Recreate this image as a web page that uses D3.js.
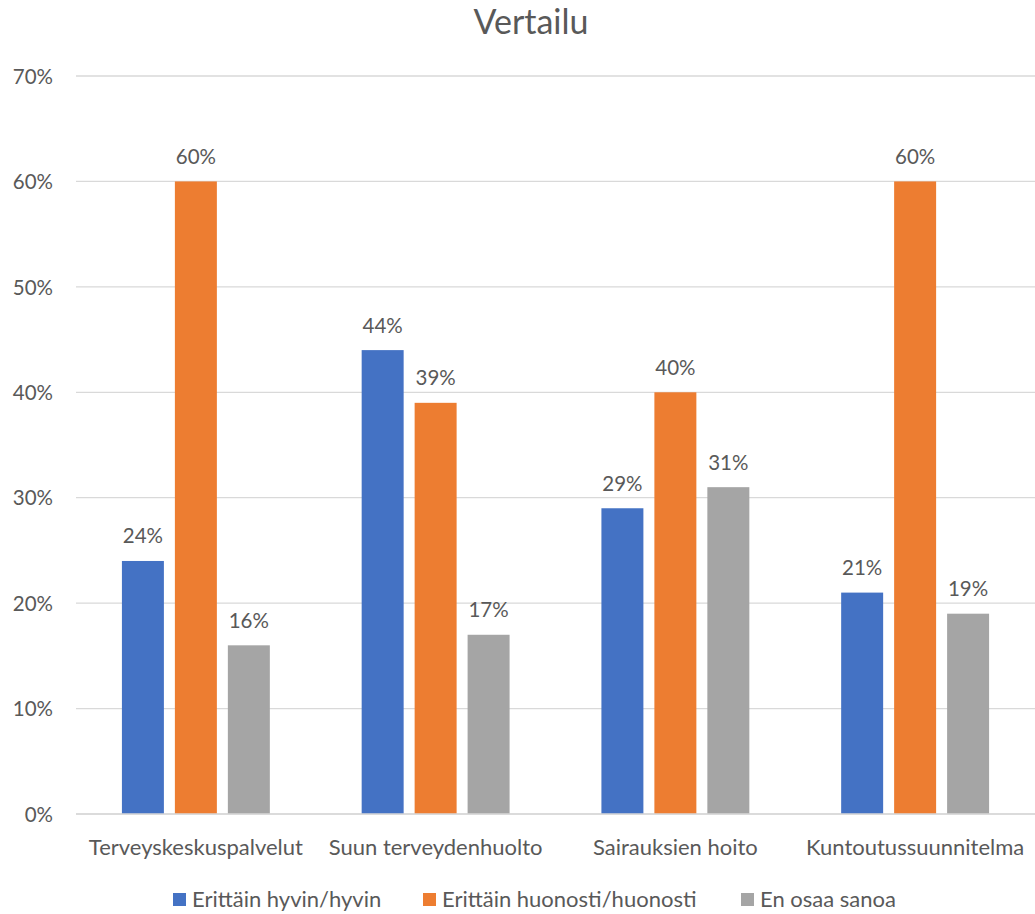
<!DOCTYPE html>
<html><head><meta charset="utf-8">
<script src="https://cdn.jsdelivr.net/npm/d3@7"></script>
<style>html,body{margin:0;padding:0;background:#fff}</style>
</head><body>
<svg id="c" width="1035" height="914"></svg>
<script>
const title = "Vertailu";
const categories = ["Terveyskeskuspalvelut", "Suun terveydenhuolto", "Sairauksien hoito", "Kuntoutussuunnitelma"];
const seriesNames = ["Erittäin hyvin/hyvin", "Erittäin huonosti/huonosti", "En osaa sanoa"];
const hyvin = [0.24, 0.44, 0.29, 0.21];
const huonosti = [0.60, 0.39, 0.40, 0.60];
const enOsaa = [0.16, 0.17, 0.31, 0.19];
const yTicks = [0, 0.1, 0.2, 0.3, 0.4, 0.5, 0.6, 0.7];
const colors = ["#4472C4", "#ED7D31", "#A5A5A5"];
const seriesValues = [hyvin, huonosti, enOsaa];

const font = "Lato, 'Open Sans', sans-serif";
const textColor = "#595959";
const svg = d3.select("#c");

const pLeft = 76, pRight = 1035, pTop = 76, pBottom = 814;
const x = d3.scaleBand().domain(categories).range([pLeft, pRight]).paddingInner(0.383).paddingOuter(0.1915);
const xs = d3.scaleBand().domain(seriesNames).range([0, x.bandwidth()]).paddingInner(0.2075).paddingOuter(0);
const y = d3.scaleLinear().domain([0, 0.7]).range([pBottom, pTop]);
const pct = d3.format(".0%");

// gridlines
svg.append("g").selectAll("line").data(yTicks).join("line")
  .attr("x1", pLeft).attr("x2", pRight)
  .attr("y1", d => y(d)).attr("y2", d => y(d))
  .attr("stroke", "#D9D9D9").attr("stroke-width", 1.3);

// y axis labels
const yAxis = d3.axisLeft(y).tickValues(yTicks).tickFormat(pct).tickSize(0).tickPadding(0);
const ya = svg.append("g").attr("transform", `translate(53,0)`).call(yAxis);
ya.select(".domain").remove();
ya.selectAll("text").attr("font-family", font).attr("font-size", 20.5).attr("fill", textColor).attr("dy", "0.35em");

// bars
const data = [];
categories.forEach((c, i) => seriesNames.forEach((s, j) => data.push({c, s, j, v: seriesValues[j][i]})));
svg.append("g").selectAll("rect").data(data).join("rect")
  .attr("x", d => x(d.c) + xs(d.s))
  .attr("width", xs.bandwidth())
  .attr("y", d => y(d.v))
  .attr("height", d => y(0) - y(d.v))
  .attr("fill", d => colors[d.j]);

// zero line over bars
svg.append("line").attr("x1", pLeft).attr("x2", pRight).attr("y1", y(0)).attr("y2", y(0))
  .attr("stroke", "#D9D9D9").attr("stroke-width", 1.3);

// data labels
svg.append("g").selectAll("text").data(data).join("text")
  .attr("x", d => x(d.c) + xs(d.s) + xs.bandwidth() / 2)
  .attr("y", d => y(d.v) - 17.5)
  .attr("text-anchor", "middle")
  .attr("font-family", font).attr("font-size", 20.5).attr("fill", textColor)
  .text(d => pct(d.v));

// x axis labels
const xAxis = d3.axisBottom(x).tickSize(0).tickPadding(0);
const xa = svg.append("g").attr("transform", `translate(0,${pBottom})`).call(xAxis);
xa.select(".domain").remove();
xa.selectAll("text").attr("font-family", font).attr("font-size", 22).attr("fill", textColor)
  .attr("y", 41).attr("dy", 0);

// title
svg.append("text").attr("x", 531).attr("y", 34).attr("text-anchor", "middle")
  .attr("font-family", font).attr("font-size", 34).attr("fill", textColor).text(title);

// legend
const legendX = [173, 423, 741];
const lg = svg.append("g").selectAll("g").data(seriesNames).join("g")
  .attr("transform", (d, i) => `translate(${legendX[i]},893)`);
lg.append("rect").attr("width", 13).attr("height", 13).attr("fill", (d, i) => colors[i]);
lg.append("text").attr("x", 19).attr("y", 14).attr("font-family", font).attr("font-size", 22)
  .attr("fill", textColor).text(d => d);
</script>
</body></html>
